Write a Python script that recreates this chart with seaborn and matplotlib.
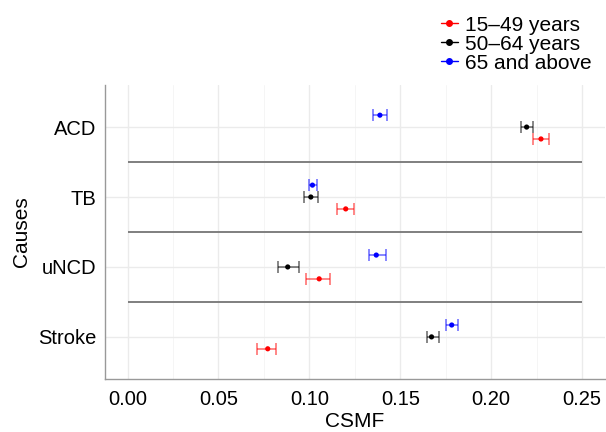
import numpy as np
import pandas as pd
import matplotlib
matplotlib.use("Agg")
import matplotlib.pyplot as plt
import seaborn as sns
from matplotlib.lines import Line2D

# data
causes = ["ACD", "TB", "uNCD", "Stroke"]
groups = ["15\u201349 years", "50\u201364 years", "65 and above"]
colors = ["#FF0000", "#000000", "#0000FF"]

csmf_1549 = [0.2274, 0.1200, 0.1054, 0.0771]
low_1549 = [0.2232, 0.1151, 0.0983, 0.0711]
high_1549 = [0.2318, 0.1244, 0.1116, 0.0818]

csmf_5064 = [0.2195, 0.1008, 0.0881, 0.1672]
low_5064 = [0.2163, 0.0968, 0.0826, 0.1647]
high_5064 = [0.2228, 0.1049, 0.0943, 0.1714]

csmf_65 = [0.1388, 0.1017, 0.1368, 0.1783]
low_65 = [0.1351, 0.0996, 0.1326, 0.1752]
high_65 = [0.1428, 0.1041, 0.1422, 0.1820]

sns.set_theme(style="whitegrid")
plt.rcParams["font.family"] = ["Liberation Sans", "DejaVu Sans"]
plt.rcParams["text.color"] = "black"
plt.rcParams["axes.labelcolor"] = "black"

rows = []
for g, est, lo, hi in zip(groups,
                          [csmf_1549, csmf_5064, csmf_65],
                          [low_1549, low_5064, low_65],
                          [high_1549, high_5064, high_65]):
    for c, e, l, h in zip(causes, est, lo, hi):
        rows.append({"cause": c, "group": g, "csmf": e, "low": l, "high": h})
df = pd.DataFrame(rows)

# dodge within each cause: red below, blue above
dodge = {groups[0]: 0.17, groups[1]: 0.0, groups[2]: -0.17}
df["ypos"] = df["cause"].map({c: i for i, c in enumerate(causes)}) + df["group"].map(dodge)

fig = plt.figure(figsize=(6.06, 4.32), dpi=100)
ax = fig.add_axes([0.173, 0.123, 0.825, 0.68])

palette = dict(zip(groups, colors))
for g in groups:
    sub = df[df["group"] == g]
    ax.errorbar(sub["csmf"], sub["ypos"],
                xerr=[sub["csmf"] - sub["low"], sub["high"] - sub["csmf"]],
                fmt="none", ecolor=palette[g], alpha=0.6, elinewidth=1.1,
                capsize=4, capthick=1.1, zorder=3)

sns.scatterplot(data=df, x="csmf", y="ypos", hue="group", palette=palette,
                hue_order=groups, s=14, edgecolor="none", legend=False,
                ax=ax, zorder=4)

# separators between causes
for k in range(len(causes) - 1):
    ax.hlines(k + 0.5, 0, 0.25, color="#7f7f7f", linewidth=1.4, zorder=2)

ax.set_xlim(-0.0125, 0.2625)
ax.set_ylim(len(causes) - 1 + 0.6, -0.6)
ax.set_xticks(np.arange(0, 0.2501, 0.05))
ax.set_xticklabels([f"{v:.2f}" for v in np.arange(0, 0.2501, 0.05)])
ax.set_xticks(np.arange(0.025, 0.25, 0.05), minor=True)
ax.set_yticks(range(len(causes)))
ax.set_yticklabels(causes)

ax.grid(True, which="major", color="#ebebeb", linewidth=1.0)
ax.grid(True, which="minor", axis="x", color="#f4f4f4", linewidth=0.6)
ax.set_axisbelow(True)
for s in ["top", "right"]:
    ax.spines[s].set_visible(False)
for s in ["left", "bottom"]:
    ax.spines[s].set_color("#999999")
    ax.spines[s].set_linewidth(1.0)
ax.tick_params(axis="both", which="major", length=3, color="#999999",
               labelsize=14.5, labelcolor="black", pad=3)
ax.tick_params(axis="x", which="major", pad=5)
ax.tick_params(axis="both", which="minor", length=0)

ax.set_xlabel("CSMF", fontsize=15, labelpad=2)
ax.set_ylabel("Causes", fontsize=15, labelpad=5)

handles = [Line2D([0], [0], color=c, marker="o", markersize=4, linewidth=1.0)
           for c in colors]
leg = fig.legend(handles, groups, loc="upper left", bbox_to_anchor=(0.714, 0.983),
                 frameon=False, fontsize=15, handlelength=0.8, handletextpad=0.35,
                 labelspacing=0.0, borderaxespad=0)

fig.savefig("out.png", dpi=100)
